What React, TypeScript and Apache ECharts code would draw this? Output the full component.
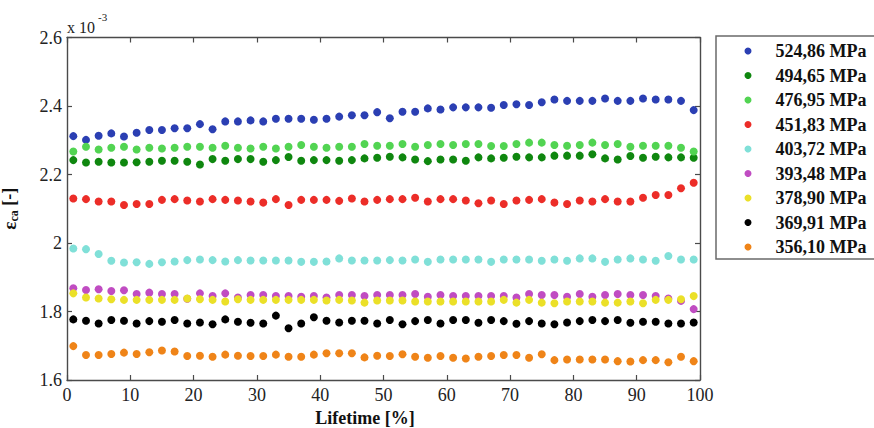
import React, { useEffect, useRef } from "react";
import * as echarts from "echarts";

const lifetime = [1,3,5,7,9,11,13,15,17,19,21,23,25,27,29,31,33,35,37,39,41,43,45,47,49,51,53,55,57,59,61,63,65,67,69,71,73,75,77,79,81,83,85,87,89,91,93,95,97,99];

const s524 = [2.312,2.301,2.313,2.320,2.311,2.322,2.330,2.330,2.335,2.335,2.347,2.332,2.355,2.355,2.358,2.355,2.363,2.363,2.363,2.360,2.363,2.369,2.373,2.373,2.382,
  2.364,2.383,2.383,2.393,2.390,2.396,2.396,2.396,2.395,2.403,2.405,2.403,2.411,2.419,2.415,2.415,2.415,2.422,2.415,2.415,2.422,2.419,2.419,2.415,2.388];
const s494 = [2.242,2.235,2.237,2.235,2.235,2.236,2.237,2.240,2.240,2.237,2.229,2.245,2.240,2.245,2.245,2.237,2.242,2.251,2.240,2.242,2.242,2.240,2.242,2.247,2.249,
  2.252,2.250,2.244,2.239,2.244,2.244,2.240,2.250,2.247,2.249,2.252,2.250,2.250,2.255,2.255,2.255,2.259,2.247,2.244,2.254,2.249,2.252,2.250,2.250,2.249];
const s476 = [2.267,2.281,2.273,2.278,2.281,2.273,2.278,2.276,2.278,2.281,2.281,2.278,2.284,2.278,2.276,2.281,2.276,2.281,2.286,2.281,2.278,2.281,2.281,2.289,2.284,
  2.284,2.289,2.281,2.286,2.289,2.286,2.289,2.289,2.283,2.283,2.289,2.293,2.293,2.286,2.284,2.286,2.293,2.286,2.289,2.281,2.284,2.284,2.284,2.278,2.267];
const s451 = [2.130,2.128,2.121,2.121,2.111,2.114,2.114,2.126,2.128,2.124,2.121,2.128,2.126,2.124,2.121,2.118,2.128,2.111,2.126,2.126,2.126,2.123,2.130,2.121,2.126,
  2.128,2.128,2.132,2.121,2.128,2.128,2.124,2.116,2.124,2.114,2.124,2.126,2.128,2.118,2.114,2.124,2.121,2.128,2.121,2.121,2.132,2.140,2.140,2.160,2.176];
const s403 = [1.984,1.982,1.968,1.948,1.943,1.944,1.939,1.944,1.946,1.950,1.952,1.950,1.946,1.950,1.949,1.949,1.949,1.949,1.945,1.945,1.946,1.955,1.949,1.949,1.949,
  1.950,1.949,1.952,1.945,1.952,1.952,1.952,1.952,1.945,1.952,1.952,1.952,1.948,1.952,1.948,1.955,1.955,1.945,1.952,1.955,1.952,1.948,1.962,1.952,1.952];
const s393 = [1.868,1.863,1.865,1.860,1.862,1.851,1.855,1.851,1.851,1.837,1.853,1.845,1.853,1.841,1.848,1.848,1.845,1.845,1.843,1.845,1.841,1.848,1.848,1.845,1.848,
  1.848,1.848,1.851,1.843,1.848,1.845,1.845,1.845,1.845,1.845,1.841,1.851,1.848,1.848,1.843,1.851,1.843,1.848,1.851,1.848,1.848,1.845,1.838,1.831,1.807];
const s378 = [1.853,1.841,1.838,1.836,1.834,1.834,1.834,1.834,1.834,1.838,1.836,1.834,1.829,1.836,1.834,1.834,1.834,1.834,1.834,1.834,1.832,1.834,1.832,1.826,1.832,
  1.832,1.832,1.829,1.829,1.829,1.829,1.829,1.829,1.829,1.834,1.826,1.834,1.826,1.824,1.829,1.829,1.829,1.826,1.826,1.829,1.824,1.834,1.834,1.836,1.845];
const s369 = [1.777,1.773,1.765,1.775,1.773,1.765,1.772,1.770,1.775,1.765,1.768,1.763,1.777,1.770,1.767,1.765,1.788,1.751,1.765,1.783,1.773,1.768,1.773,1.773,1.765,
  1.775,1.763,1.772,1.775,1.765,1.775,1.775,1.767,1.775,1.772,1.764,1.772,1.765,1.763,1.768,1.772,1.775,1.772,1.775,1.767,1.770,1.770,1.765,1.765,1.768];
const s356 = [1.699,1.673,1.673,1.676,1.680,1.676,1.681,1.686,1.683,1.670,1.671,1.668,1.674,1.671,1.670,1.670,1.674,1.668,1.668,1.674,1.678,1.678,1.678,1.666,1.671,
  1.670,1.675,1.668,1.665,1.670,1.665,1.663,1.668,1.670,1.673,1.673,1.665,1.675,1.658,1.660,1.660,1.660,1.660,1.655,1.654,1.658,1.658,1.652,1.668,1.655];

const seriesNames = ["524,86 MPa","494,65 MPa","476,95 MPa","451,83 MPa","403,72 MPa","393,48 MPa","378,90 MPa","369,91 MPa","356,10 MPa"];
const seriesValues = [s524, s494, s476, s451, s403, s393, s378, s369, s356];
const seriesColors = ["#2b3fb3","#0f870f","#52d452","#ec2d28","#80e0d8","#c04cc2","#ebe028","#000000","#ef8418"];

const xTicks = { min: 0, max: 100, interval: 10 };
const yTicks = { min: 1.6, max: 2.6, interval: 0.2 };

const FONT = "'Liberation Serif', 'Times New Roman', serif";
const AX = "#4a4a4a";

export default function App() {
  const ref = useRef<HTMLDivElement>(null);
  useEffect(() => {
    if (!ref.current) return;
    const chart = echarts.init(ref.current, null, { renderer: "svg" });
    const axisCommon = {
      axisLine: { show: true, onZero: false, lineStyle: { color: AX, width: 1.4 } },
      axisTick: { show: true, inside: true, length: 5, lineStyle: { color: AX, width: 1.2 } },
      splitLine: { show: false },
    };
    const yFmt = (v: number) => String(+v.toFixed(1));
    chart.setOption({
      animation: false,
      backgroundColor: "#ffffff",
      grid: { left: 67, right: 174, top: 37.5, bottom: 48, containLabel: false, outerBoundsMode: "none" },
      xAxis: [
        {
          type: "value", ...xTicks, position: "bottom", ...axisCommon,
          axisLabel: { color: "#222", fontFamily: FONT, fontSize: 18, margin: 6 },
          name: "Lifetime [%]", nameLocation: "middle", nameGap: 28,
          nameTextStyle: { color: "#111", fontFamily: FONT, fontSize: 18, fontWeight: "bold", padding: [0, 37, 0, 0] },
        },
        {
          type: "value", ...xTicks, position: "top", ...axisCommon,
          axisLabel: { show: false },
        },
      ],
      yAxis: [
        {
          type: "value", ...yTicks, position: "left", ...axisCommon,
          axisLabel: { color: "#222", fontFamily: FONT, fontSize: 18, margin: 5, formatter: yFmt },
          name: "{e|ε}{s|ca}{b| [-]}", nameLocation: "middle", nameRotate: 90, nameGap: 47,
          nameTextStyle: {
            color: "#111", fontFamily: FONT, fontWeight: "bold",
            rich: {
              e: { fontFamily: FONT, fontSize: 19, fontWeight: "bold", color: "#111" },
              s: { fontFamily: FONT, fontSize: 12, fontWeight: "bold", color: "#111", padding: [10, 0, 0, 0] },
              b: { fontFamily: FONT, fontSize: 18, fontWeight: "bold", color: "#111" },
            },
          },
        },
        {
          type: "value", ...yTicks, position: "right", ...axisCommon,
          axisLabel: { show: false },
        },
      ],
      legend: {
        orient: "vertical", left: 744.5, top: 42, itemWidth: 7, itemHeight: 7, itemGap: 6.5,
        padding: 0,
        icon: "circle",
        formatter: (name: string) => `{t|${name}}`,
        textStyle: {
          fontFamily: FONT, fontSize: 18, fontWeight: "bold", color: "#111", lineHeight: 18,
          rich: { t: { fontFamily: FONT, fontSize: 18, fontWeight: "bold", color: "#111", lineHeight: 18, padding: [0, 0, 0, 19] } },
        },
        data: seriesNames,
      },
      graphic: [
        { type: "rect", shape: { x: 716, y: 36, width: 200, height: 223 }, style: { fill: "none", stroke: "#6a6a6a", lineWidth: 1.5 }, z: -1 },
        { type: "text", x: 67, y: 19, style: { text: "x 10", font: `16px ${FONT}`, fill: "#222" } },
        { type: "text", x: 98, y: 11, style: { text: "-3", font: `11px ${FONT}`, fill: "#222" } },
      ],
      series: seriesNames.map((name, i) => ({
        name, type: "scatter", xAxisIndex: 0, yAxisIndex: 0,
        symbol: "circle", symbolSize: 8,
        itemStyle: { color: seriesColors[i], opacity: 1 },
        data: lifetime.map((x, j) => [x, seriesValues[i][j]]),
      })),
    });
    return () => chart.dispose();
  }, []);
  return <div ref={ref} style={{ width: 874, height: 428, position: "absolute", left: 0, top: 0 }} />;
}
